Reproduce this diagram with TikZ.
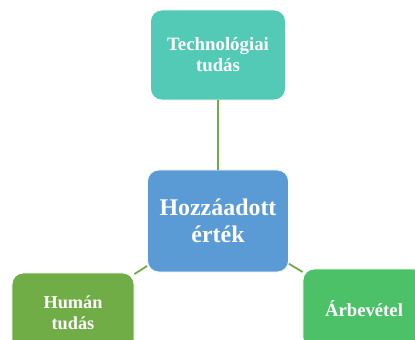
\documentclass[tikz,border=0pt]{standalone}
\usepackage{fontspec}
\setmainfont{Liberation Serif}
\usepackage{tikz}
\usetikzlibrary{calc}
\definecolor{tealbox}{RGB}{82,202,182}
\definecolor{bluebox}{RGB}{91,155,213}
\definecolor{greenbox}{RGB}{112,173,71}
\definecolor{limebox}{RGB}{76,193,104}
\definecolor{linkgreen}{RGB}{112,173,71}
\tikzset{
  box/.style={
    draw=white,line width=0.6pt,rounded corners=8pt,align=center,
    text=white,font=\bfseries,inner sep=2pt,
  },
  link/.style={draw=linkgreen,line width=1.3pt},
}

\begin{document}
\begin{tikzpicture}[x=0.025cm,y=-0.025cm]
            \useasboundingbox (0,0) rectangle (415,340);
            % boxes
            \node [box,fill=tealbox,minimum width=3.375cm,minimum height=2.25cm,font=\bfseries\fontsize{13.4}{15}\selectfont] (tech) at (218,55) {Technológiai\\tudás};
            \node [box,fill=bluebox,minimum width=3.525cm,minimum height=2.55cm,font=\bfseries\fontsize{17}{19.5}\selectfont] (value) at (218,221) {Hozzáadott\\érték};
            \node [box,fill=greenbox,minimum width=3.05cm,minimum height=2cm,font=\bfseries\fontsize{13}{15}\selectfont] (human) at (73,313) {Humán\\tudás};
            \node [box,fill=limebox,minimum width=3.05cm,minimum height=2cm,font=\bfseries\fontsize{13.3}{15}\selectfont] (revenue) at (364,309) {Árbevétel};
            % links
            \draw [link] (value) -- (tech);
            \draw [link] (value) -- (human);
            \draw [link] (value) -- (revenue);
        \end{tikzpicture}
\end{document}
